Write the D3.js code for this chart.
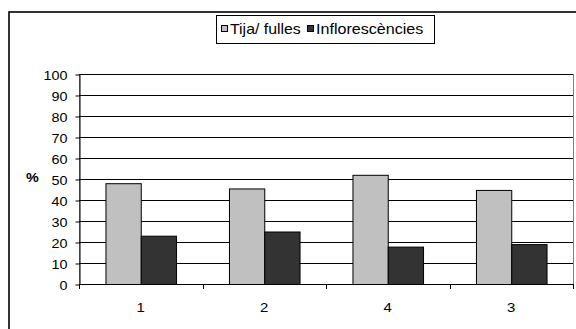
<!DOCTYPE html>
<html>
<head>
<meta charset="utf-8">
<script src="https://cdn.jsdelivr.net/npm/d3@7/dist/d3.min.js"></script>
<style>
  html, body { margin: 0; padding: 0; background: #fff; }
  svg { display: block; }
  text { font-family: "Liberation Sans", Arial, sans-serif; fill: #000; }
</style>
</head>
<body>
<svg id="chart" width="576" height="329"></svg>
<script>
// Share (%) of each plant part, per sample
const categories = ["1", "2", "4", "3"];
const seriesNames = ["Tija/ fulles", "Inflorescències"];
const tijaFulles = [48, 45.5, 52, 44.8];
const inflorescencies = [23, 25, 17.8, 19];
const yTicks = [0, 10, 20, 30, 40, 50, 60, 70, 80, 90, 100];
const seriesColors = ["#c0c0c0", "#333333"];

const series = [tijaFulles, inflorescencies];
const svg = d3.select("#chart");
const sx = 1.15; // glyphs are drawn slightly wide

const plot = { left: 79, right: 573, top: 74, bottom: 284 };

// Outer chart frame (runs past the right and bottom edges)
svg.append("rect")
  .attr("x", 9).attr("y", 12)
  .attr("width", 600).attr("height", 340)
  .attr("fill", "none").attr("stroke", "#000").attr("stroke-width", 1.6);

const x = d3.scaleBand().domain(categories).range([plot.left, plot.right]).padding(0);
const barW = x.bandwidth() / 3.5;
const xs = d3.scaleBand().domain(d3.range(series.length))
  .range([(x.bandwidth() - 2 * barW) / 2, (x.bandwidth() + 2 * barW) / 2]).padding(0);
const y = d3.scaleLinear().domain([0, 100]).range([plot.bottom, plot.top]);

// Plot area border (grey top/right)
svg.append("rect")
  .attr("x", plot.left + 0.5).attr("y", plot.top + 0.5)
  .attr("width", plot.right - plot.left).attr("height", plot.bottom - plot.top)
  .attr("fill", "none").attr("stroke", "#808080").attr("stroke-width", 1);

// Horizontal gridlines
svg.append("g").selectAll("line")
  .data(yTicks.filter(t => t > 0))
  .join("line")
  .attr("x1", plot.left).attr("x2", plot.right)
  .attr("y1", d => Math.round(y(d)) + 0.5).attr("y2", d => Math.round(y(d)) + 0.5)
  .attr("stroke", "#000").attr("stroke-width", 1);

// Bars
const groups = svg.append("g").selectAll("g")
  .data(categories)
  .join("g")
  .attr("transform", d => `translate(${x(d)},0)`);

groups.selectAll("rect")
  .data((d, i) => series.map((s, k) => ({ k, v: s[i] })))
  .join("rect")
  .attr("x", d => xs(d.k) + 0.5)
  .attr("y", d => y(d.v) + 0.5)
  .attr("width", xs.bandwidth())
  .attr("height", d => y(0) - y(d.v))
  .attr("fill", d => seriesColors[d.k])
  .attr("stroke", "#000").attr("stroke-width", 1);

// Y axis
const yAxis = svg.append("g")
  .attr("transform", `translate(${plot.left + 0.5},0.5)`)
  .call(d3.axisLeft(y).tickValues(yTicks).tickSize(4).tickPadding(8).tickSizeOuter(0));
yAxis.select(".domain").attr("stroke", "#000");
yAxis.selectAll(".tick line").attr("stroke", "#000");
yAxis.selectAll(".tick text")
  .attr("font-size", 12.5).attr("font-family", "Liberation Sans, Arial, sans-serif")
  .attr("transform", `scale(${sx},1)`)
  .attr("x", -12 / sx)
  .attr("dy", "0.36em");

// Extend the y axis line slightly below zero
svg.append("line")
  .attr("x1", plot.left + 0.5).attr("x2", plot.left + 0.5)
  .attr("y1", plot.bottom).attr("y2", plot.bottom + 5)
  .attr("stroke", "#000");

// X axis baseline and boundary ticks
svg.append("line")
  .attr("x1", plot.left).attr("x2", plot.right + 1)
  .attr("y1", plot.bottom + 0.5).attr("y2", plot.bottom + 0.5)
  .attr("stroke", "#000");
const boundaries = categories.map(c => x(c)).concat([plot.right]);
svg.append("g").selectAll("line")
  .data(boundaries.slice(1))
  .join("line")
  .attr("x1", d => Math.round(d) + 0.5).attr("x2", d => Math.round(d) + 0.5)
  .attr("y1", plot.bottom).attr("y2", plot.bottom + 5)
  .attr("stroke", "#000");

// Category labels
svg.append("g").selectAll("text")
  .data(categories)
  .join("text")
  .attr("transform", d => `translate(${x(d) + x.bandwidth() / 2},312) scale(${sx},1)`)
  .attr("text-anchor", "middle")
  .attr("font-size", 13)
  .text(d => d);

// Y axis title
svg.append("text")
  .attr("transform", `translate(26,182) scale(${sx},1)`)
  .attr("font-size", 12.5).attr("font-weight", "bold")
  .text("%");

// Legend
const legend = svg.append("g");
legend.append("rect")
  .attr("x", 216.5).attr("y", 15.5).attr("width", 218).attr("height", 28)
  .attr("fill", "#fff").attr("stroke", "#000").attr("stroke-width", 1);
const legendItems = [
  { sw: 221, tx: 230, fs: 13.8 },
  { sw: 307, tx: 316, fs: 14 }
];
legendItems.forEach((p, i) => {
  legend.append("rect")
    .attr("x", p.sw + 0.5).attr("y", 25.5).attr("width", 6).attr("height", 6)
    .attr("fill", seriesColors[i]).attr("stroke", "#000").attr("stroke-width", 1);
  legend.append("text")
    .attr("transform", `translate(${p.tx},34) scale(${sx},1)`)
    .attr("font-size", p.fs)
    .text(seriesNames[i]);
});
</script>
</body>
</html>
